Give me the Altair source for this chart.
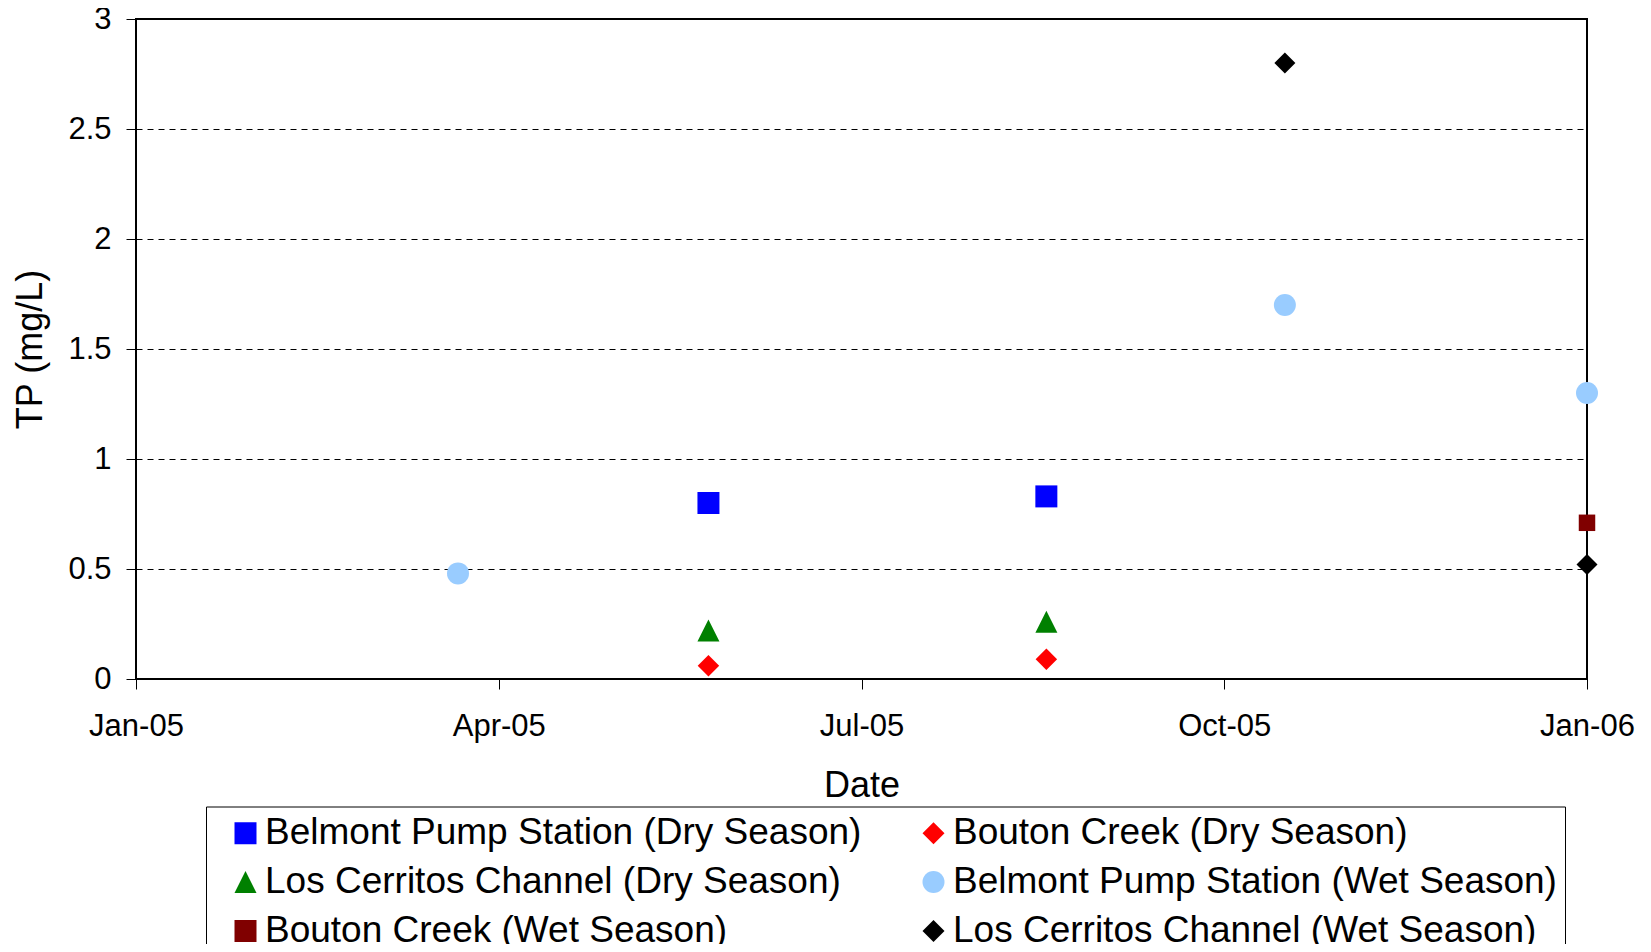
import altair as alt
import pandas as pd

series_names = [
    "Belmont Pump Station (Dry Season)",
    "Bouton Creek (Dry Season)",
    "Los Cerritos Channel (Dry Season)",
    "Belmont Pump Station (Wet Season)",
    "Bouton Creek (Wet Season)",
    "Los Cerritos Channel (Wet Season)",
]

belmont_dry_dates = ["2005-05-25", "2005-08-18"]
belmont_dry_tp = [0.80, 0.83]
bouton_dry_dates = ["2005-05-25", "2005-08-18"]
bouton_dry_tp = [0.06, 0.09]
lc_dry_dates = ["2005-05-25", "2005-08-18"]
lc_dry_tp = [0.22, 0.26]
belmont_wet_dates = ["2005-03-23", "2005-10-17", "2006-01-01"]
belmont_wet_tp = [0.48, 1.70, 1.30]
bouton_wet_dates = ["2006-01-01"]
bouton_wet_tp = [0.71]
lc_wet_dates = ["2005-10-17", "2006-01-01"]
lc_wet_tp = [2.80, 0.52]

colors = ["#0000FF", "#FF0000", "#008000", "#99CCFF", "#800000", "#000000"]
shapes = ["square", "diamond", "M0,-1L1,1L-1,1Z", "circle", "square", "diamond"]
sizes = [484, 462, 484, 484, 272, 441]

y_ticks = [0, 0.5, 1, 1.5, 2, 2.5, 3]

# legend is filled column by column (3 rows), so order the domain accordingly
legend_order = [0, 2, 4, 1, 3, 5]
dom = [series_names[i] for i in legend_order]
col_rng = [colors[i] for i in legend_order]
shp_rng = [shapes[i] for i in legend_order]

all_dates = [belmont_dry_dates, bouton_dry_dates, lc_dry_dates,
             belmont_wet_dates, bouton_wet_dates, lc_wet_dates]
all_tp = [belmont_dry_tp, bouton_dry_tp, lc_dry_tp,
          belmont_wet_tp, bouton_wet_tp, lc_wet_tp]

rows = []
for name, sz, ds, vs in zip(series_names, sizes, all_dates, all_tp):
    for d, v in zip(ds, vs):
        rows.append({"series": name, "msize": sz, "date": d, "tp": v})
df = pd.DataFrame(rows)

FONT = "Liberation Sans"

x_domain = [alt.DateTime(year=2005, month=1, date=1, utc=True),
            alt.DateTime(year=2006, month=1, date=1, utc=True)]
x_ticks = [
    alt.DateTime(year=2005, month=1, date=1, utc=True),
    alt.DateTime(year=2005, month=4, date=2, hours=6, utc=True),
    alt.DateTime(year=2005, month=7, date=2, hours=12, utc=True),
    alt.DateTime(year=2005, month=10, date=1, hours=18, utc=True),
    alt.DateTime(year=2006, month=1, date=1, utc=True),
]

chart = alt.Chart(df).mark_point(filled=True, opacity=1, strokeWidth=0).encode(
    x=alt.X("date:T",
            scale=alt.Scale(type="utc", domain=x_domain, nice=False),
            axis=alt.Axis(values=x_ticks,
                          labelExpr="utcFormat(datum.value, '%b-%y')",
                          title="Date", grid=False, domain=False,
                          tickSize=10, labelPadding=22, titlePadding=27,
                          labelFlush=False)),
    y=alt.Y("tp:Q",
            scale=alt.Scale(domain=[0, 3], nice=False, zero=True),
            axis=alt.Axis(values=y_ticks, format="~g", title="TP (mg/L)",
                          grid=True, gridDash=[6, 5], gridColor="black",
                          gridWidth=1, domain=False, tickSize=10,
                          labelPadding=15, titlePadding=18)),
    color=alt.Color("series:N", scale=alt.Scale(domain=dom, range=col_rng),
                    legend=alt.Legend(title=None)),
    shape=alt.Shape("series:N", scale=alt.Scale(domain=dom, range=shp_rng),
                    legend=alt.Legend(title=None)),
    size=alt.Size("msize:Q", scale=None, legend=None),
).properties(
    width=1451,
    height=660,
    autosize=alt.AutoSizeParams(type="none"),
    padding={"left": 128, "top": 11, "right": 50, "bottom": 265},
).configure(
    font=FONT,
).configure_view(
    stroke="black",
    strokeWidth=2,
).configure_axis(
    labelFont=FONT,
    titleFont=FONT,
    labelFontSize=31,
    titleFontSize=36,
    titleFontWeight="normal",
    labelColor="black",
    titleColor="black",
    tickColor="black",
    tickWidth=1,
).configure_legend(
    orient="none",
    legendX=70,
    legendY=787.5,
    columns=2,
    strokeColor="black",
    strokeWidth=1,
    padding=8,
    symbolOffset=13,
    labelFont=FONT,
    labelFontSize=37,
    labelColor="black",
    labelLimit=2000,
    labelOffset=1,
    rowPadding=11,
    columnPadding=40,
    symbolSize=484,
    symbolStrokeWidth=0,
    symbolOpacity=1,
)

chart.save("out.html", embed_options={"renderer": "svg", "actions": False})
